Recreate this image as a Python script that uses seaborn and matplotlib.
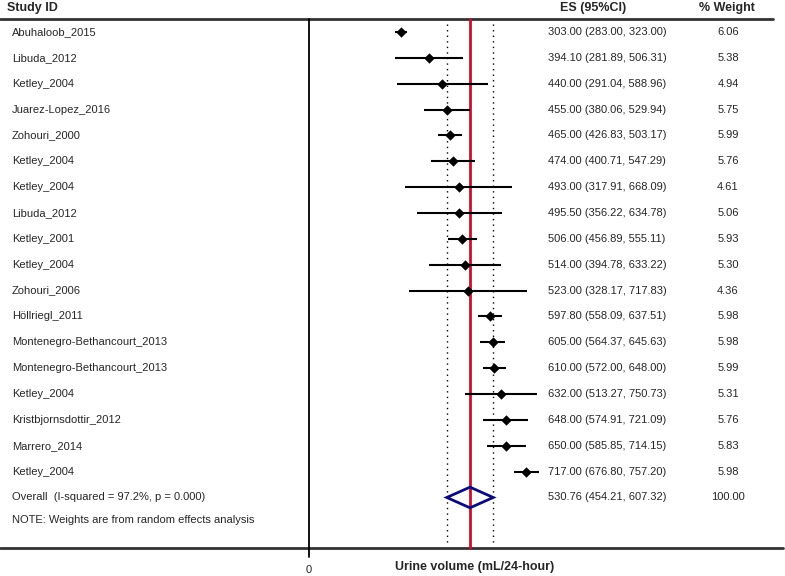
import matplotlib
matplotlib.use("Agg")
import matplotlib.pyplot as plt
import seaborn as sns
import pandas as pd
from matplotlib.patches import Polygon

# dados do forest plot
estudos = ['Abuhaloob_2015', 'Libuda_2012', 'Ketley_2004', 'Juarez-Lopez_2016',
           'Zohouri_2000', 'Ketley_2004', 'Ketley_2004', 'Libuda_2012',
           'Ketley_2001', 'Ketley_2004', 'Zohouri_2006', 'Höllriegl_2011',
           'Montenegro-Bethancourt_2013', 'Montenegro-Bethancourt_2013',
           'Ketley_2004', 'Kristbjornsdottir_2012', 'Marrero_2014', 'Ketley_2004']
es = [303.00, 394.10, 440.00, 455.00, 465.00, 474.00, 493.00, 495.50, 506.00,
      514.00, 523.00, 597.80, 605.00, 610.00, 632.00, 648.00, 650.00, 717.00]
ic_inf = [283.00, 281.89, 291.04, 380.06, 426.83, 400.71, 317.91, 356.22, 456.89,
          394.78, 328.17, 558.09, 564.37, 572.00, 513.27, 574.91, 585.85, 676.80]
ic_sup = [323.00, 506.31, 588.96, 529.94, 503.17, 547.29, 668.09, 634.78, 555.11,
          633.22, 717.83, 637.51, 645.63, 648.00, 750.73, 721.09, 714.15, 757.20]
pesos = [6.06, 5.38, 4.94, 5.75, 5.99, 5.76, 4.61, 5.06, 5.93,
         5.30, 4.36, 5.98, 5.98, 5.99, 5.31, 5.76, 5.83, 5.98]

overall_es = 530.76
overall_inf = 454.21
overall_sup = 607.32
overall_peso = 100.00
overall_rotulo = 'Overall  (I-squared = 97.2%, p = 0.000)'
nota = 'NOTE: Weights are from random effects analysis'

df = pd.DataFrame({'estudo': estudos, 'es': es, 'inf': ic_inf,
                   'sup': ic_sup, 'peso': pesos})
df['linha'] = range(len(df))
n = len(df)

sns.set_style("white")
plt.rcParams['font.family'] = ['Liberation Sans', 'DejaVu Sans']

fig = plt.figure(figsize=(7.85, 5.76), dpi=100)
ax = fig.add_axes([0, 0, 1, 1])

# escala: px 309 -> 0, px 470 -> 530.76
esc = (470 - 309) / overall_es
ax.set_xlim(-309 / esc, (785 - 309) / esc)
passo = 25.86
ax.set_ylim((576 - 32) / passo, -32 / passo)
ax.axis('off')

y_topo = -0.5
y_base = n + 1.95

# linhas horizontais
ax.axhline(y_topo, xmin=0, xmax=773 / 785, color='#333333', lw=2)
ax.axhline(y_base, xmin=0, xmax=783 / 785, color='#333333', lw=2)

# eixo do zero e linha do efeito global
ax.plot([0, 0], [y_topo, y_base + 0.35], color='black', lw=1.3)
ax.plot([overall_es, overall_es], [y_topo, y_base], color='#c8102e', lw=2, zorder=3)
for v in (overall_inf, overall_sup):
    ax.plot([v, v], [y_topo + 0.2, y_base - 0.1], color='black', lw=1,
            linestyle=(0, (1, 3)), zorder=1)

# intervalos de confiança
ax.hlines(df['linha'], df['inf'], df['sup'], color='black', lw=1.5, zorder=4)
sns.scatterplot(data=df, x='es', y='linha', marker='D', color='black',
                s=28, edgecolor='black', linewidth=0, ax=ax, zorder=5, legend=False)

# diamante do efeito global
yo = n
diamante = Polygon([[overall_inf, yo], [overall_es, yo - 0.4],
                    [overall_sup, yo], [overall_es, yo + 0.4]],
                   closed=True, fill=False, edgecolor='#0b0b7a', lw=2, zorder=6)
ax.add_patch(diamante)

# textos
x_id = -309 / esc + 12 / esc
x_es = (548 - 309) / esc
x_peso = (728 - 309) / esc
fs = 8
for _, r in df.iterrows():
    ax.text(x_id, r['linha'], r['estudo'], fontsize=fs, va='center', ha='left')
    ax.text(x_es, r['linha'], f"{r['es']:.2f} ({r['inf']:.2f}, {r['sup']:.2f})",
            fontsize=fs, va='center', ha='left')
    ax.text(x_peso, r['linha'], f"{r['peso']:.2f}", fontsize=fs, va='center', ha='center')

ax.text(x_id, yo, overall_rotulo, fontsize=fs, va='center', ha='left')
ax.text(x_es, yo, f"{overall_es:.2f} ({overall_inf:.2f}, {overall_sup:.2f})",
        fontsize=fs, va='center', ha='left')
ax.text(x_peso, yo, f"{overall_peso:.2f}", fontsize=fs, va='center', ha='center')
ax.text(x_id, n + 0.87, nota, fontsize=fs, va='center', ha='left')

# cabeçalho
y_cab = -0.93
ax.text(-309 / esc + 7 / esc, y_cab, 'Study ID', fontsize=9, fontweight='bold',
        va='center', ha='left')
ax.text((593 - 309) / esc, y_cab, 'ES (95%CI)', fontsize=9, fontweight='bold',
        va='center', ha='center')
ax.text((727 - 309) / esc, y_cab, '% Weight', fontsize=9, fontweight='bold',
        va='center', ha='center')

# rótulos do eixo
ax.text(0, y_base + 0.85, '0', fontsize=8, va='center', ha='center')
ax.text((475 - 309) / esc, y_base + 0.72, 'Urine volume (mL/24-hour)', fontsize=9,
        fontweight='bold', va='center', ha='center')

plt.savefig('out.png', dpi=100)
